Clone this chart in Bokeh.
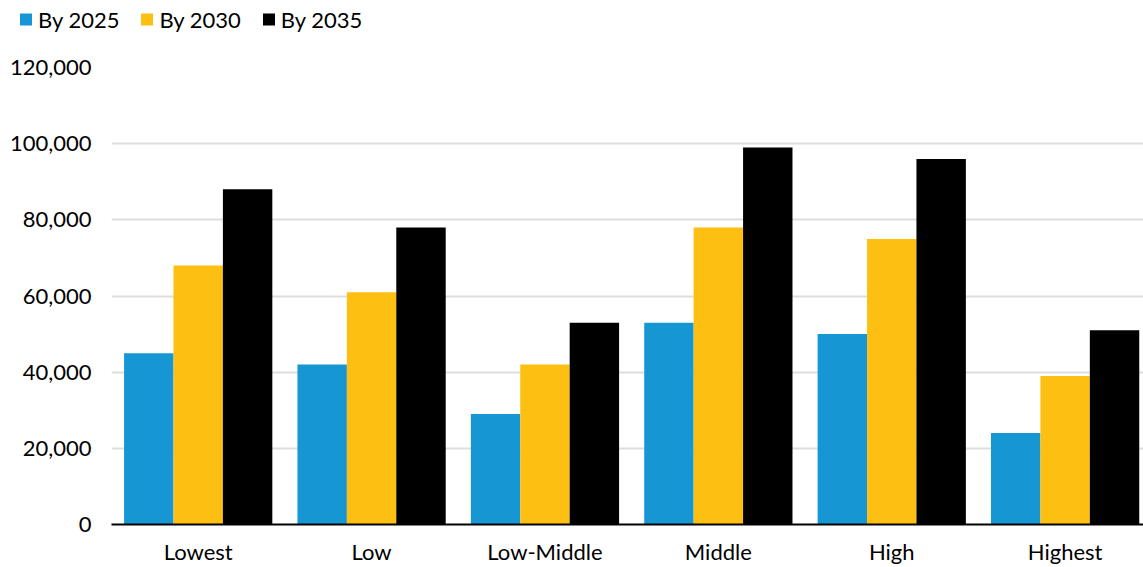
from bokeh.plotting import figure
from bokeh.layouts import column
from bokeh.models import ColumnDataSource, Range1d, FixedTicker, Legend, LegendItem, NumeralTickFormatter
from bokeh.transform import dodge
from bokeh.embed import file_html
from bokeh.resources import INLINE

categories = ["Lowest", "Low", "Low-Middle", "Middle", "High", "Highest"]
by_2025 = [45000, 42000, 29000, 53000, 50000, 24000]
by_2030 = [68000, 61000, 42000, 78000, 75000, 39000]
by_2035 = [88000, 78000, 53000, 99000, 96000, 51000]
series_names = ["By 2025", "By 2030", "By 2035"]
colors = ["#1696d2", "#fdbf11", "#000000"]
y_ticks = [0, 20000, 40000, 60000, 80000, 100000, 120000]

centers = [i + 0.5 for i in range(len(categories))]
src = ColumnDataSource(dict(x=centers, a=by_2025, b=by_2030, c=by_2035))

LEG_H = 38
p = figure(width=1143, height=567 - LEG_H, output_backend="svg", toolbar_location=None,
           x_range=Range1d(0, 5.952), y_range=Range1d(0, 120000),
           min_border_left=111, min_border_right=0, min_border_top=67 - LEG_H, min_border_bottom=0)
p.frame_align = False
p.outline_line_color = None
p.background_fill_color = "white"

bw = 0.285
for off, col, color in zip([-bw, 0, bw], ["a", "b", "c"], colors):
    p.vbar(x=dodge("x", off, range=p.x_range), top=col, width=bw, bottom=0,
           source=src, fill_color=color, line_color=None)

p.xgrid.grid_line_color = None
p.ygrid.grid_line_color = "#dedede"
p.ygrid.grid_line_width = 2
p.ygrid.ticker = FixedTicker(ticks=y_ticks)

p.yaxis.ticker = FixedTicker(ticks=y_ticks)
p.yaxis.formatter = NumeralTickFormatter(format="0,0")
p.yaxis.axis_line_color = None
p.yaxis.major_tick_line_color = None
p.yaxis.minor_tick_line_color = None
p.yaxis.major_tick_out = 0
p.yaxis.major_label_standoff = 20
p.yaxis.major_label_text_font = "Lato"
p.yaxis.major_label_text_font_size = "22px"
p.yaxis.major_label_text_color = "#000000"

p.xaxis.ticker = FixedTicker(ticks=centers)
p.xaxis.major_label_overrides = {c: lab for c, lab in zip(centers, categories)}
p.xaxis.axis_line_color = "#000000"
p.xaxis.axis_line_width = 2
p.xaxis.major_tick_line_color = None
p.xaxis.minor_tick_line_color = None
p.xaxis.major_tick_out = 0
p.xaxis.major_label_standoff = 13
p.xaxis.major_label_text_font = "Lato"
p.xaxis.major_label_text_font_size = "22px"
p.xaxis.major_label_text_color = "#000000"

# legend strip on top (its bars lie outside its ranges; only the legend shows)
lf = figure(width=1143, height=LEG_H, output_backend="svg", toolbar_location=None,
            x_range=Range1d(-3, -2), y_range=Range1d(-3, -2),
            x_axis_location=None, y_axis_location=None,
            min_border_left=0, min_border_right=0, min_border_top=0, min_border_bottom=0)
lf.frame_align = False
lf.outline_line_color = None
lf.xgrid.grid_line_color = None
lf.ygrid.grid_line_color = None
leg_renderers = [lf.vbar(x="x", bottom=col, top=col, width=0.1, source=src, fill_color=c, line_color=None)
                 for col, c in zip(["a", "b", "c"], colors)]
legend = Legend(items=[LegendItem(label=n, renderers=[r]) for n, r in zip(series_names, leg_renderers)],
                orientation="horizontal", location="left",
                glyph_width=15, glyph_height=15, label_standoff=5, spacing=20,
                padding=0, margin=18, border_line_color=None, background_fill_alpha=0,
                label_text_font="Lato", label_text_font_size="22px", label_text_color="#000000")
lf.add_layout(legend, "center")

layout = column(lf, p, spacing=0)
open("out.html", "w").write(file_html(layout, INLINE))
